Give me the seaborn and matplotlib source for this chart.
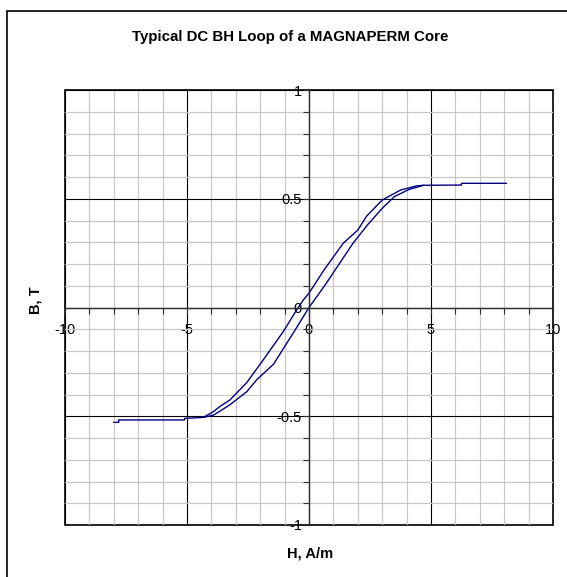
import matplotlib
matplotlib.use("Agg")
import matplotlib.pyplot as plt
from matplotlib.patches import Rectangle
from matplotlib.ticker import MultipleLocator
import seaborn as sns

# Values
h_ascending = [-8.0, -7.8, -7.8, -5.1, -5.1, -4.3, -3.9, -3.25, -2.55, -2.15,
               -1.45, -0.55, 0.0, 0.7, 1.8, 2.4, 3.0, 3.5, 4.1, 4.7,
               6.25, 6.25, 8.1]
b_ascending = [-0.528, -0.528, -0.517, -0.517, -0.51, -0.505, -0.494, -0.448,
               -0.387, -0.333, -0.26, -0.10, 0.0, 0.11, 0.295, 0.38, 0.456,
               0.51, 0.543, 0.562, 0.563, 0.571, 0.571]

h_descending = [4.7, 4.4, 3.75, 3.0, 2.36, 2.0, 1.4, 0.6, 0.0, -0.23, -0.5,
                -1.05, -1.87, -2.55, -3.24, -3.65, -3.92, -4.33]
b_descending = [0.562, 0.559, 0.54, 0.494, 0.42, 0.356, 0.295, 0.17, 0.066,
                0.035, -0.01, -0.11, -0.24, -0.345, -0.425, -0.455, -0.479,
                -0.505]

title = "Typical DC BH Loop of a MAGNAPERM Core"
x_label = "H, A/m"
y_label = "B, T"
line_color = "#000080"

sns.set_theme(style="white")
plt.rcParams["font.family"] = ["Liberation Sans", "DejaVu Sans"]
plt.rcParams["text.color"] = "black"
plt.rcParams["xtick.color"] = "black"
plt.rcParams["ytick.color"] = "black"

fig = plt.figure(figsize=(5.67, 5.77), dpi=100)
ax = fig.add_axes([65 / 567, 1 - 525 / 577, 488 / 567, 435 / 577])

sns.lineplot(x=h_ascending, y=b_ascending, sort=False, estimator=None,
             color=line_color, lw=1.0, ax=ax)
sns.lineplot(x=h_descending, y=b_descending, sort=False, estimator=None,
             color=line_color, lw=1.0, ax=ax)

ax.set_xlim(-10, 10)
ax.set_ylim(-1, 1)
ax.xaxis.set_minor_locator(MultipleLocator(1))
ax.yaxis.set_minor_locator(MultipleLocator(0.1))
ax.set_yticks([-1, -0.5, 0, 0.5, 1])
ax.set_yticklabels(["-1", "-0.5", "0", "0.5", "1"])
ax.set_xticks([-10, -5, 0, 5, 10])
ax.set_xticklabels(["-10", "-5", "0", "5", "10"])

ax.grid(which="minor", color="#c8c8c8", lw=0.9)
ax.grid(which="major", color="black", lw=0.8)
ax.set_axisbelow(True)

# axes cross at zero, like the original spreadsheet chart
ax.spines["left"].set_position(("data", 0))
ax.spines["bottom"].set_position(("data", 0))
ax.spines["top"].set_visible(False)
ax.spines["right"].set_visible(False)
for side in ["left", "bottom"]:
    ax.spines[side].set_color("#303030")
    ax.spines[side].set_linewidth(1.0)
ax.patch.set_edgecolor("black")
ax.patch.set_linewidth(1.2)

ax.tick_params(axis="both", which="both", direction="out", length=4,
               width=0.8, color="#303030", labelsize=10.5, labelcolor="black")
ax.tick_params(axis="x", which="both", bottom=True, pad=7)
ax.tick_params(axis="y", which="both", left=True, pad=1)

fig.text(290 / 567, 1 - 37 / 577, title, ha="center", va="center",
         fontsize=10.8, fontweight="bold", color="black")
fig.text(310 / 567, 1 - 553 / 577, x_label, ha="center", va="center",
         fontsize=10.5, fontweight="bold", color="black")
fig.text(35 / 567, 1 - 300 / 577, y_label, ha="center", va="center",
         rotation=90, fontsize=10.5, fontweight="bold", color="black")

# outer chart-area border (right and bottom sides fall outside the image)
fig.patches.append(Rectangle((7 / 567, -0.1), 1.0, 1.1 - 11 / 577,
                             transform=fig.transFigure, fill=False,
                             edgecolor="black", lw=1.2))

fig.savefig("out.png", dpi=100)
